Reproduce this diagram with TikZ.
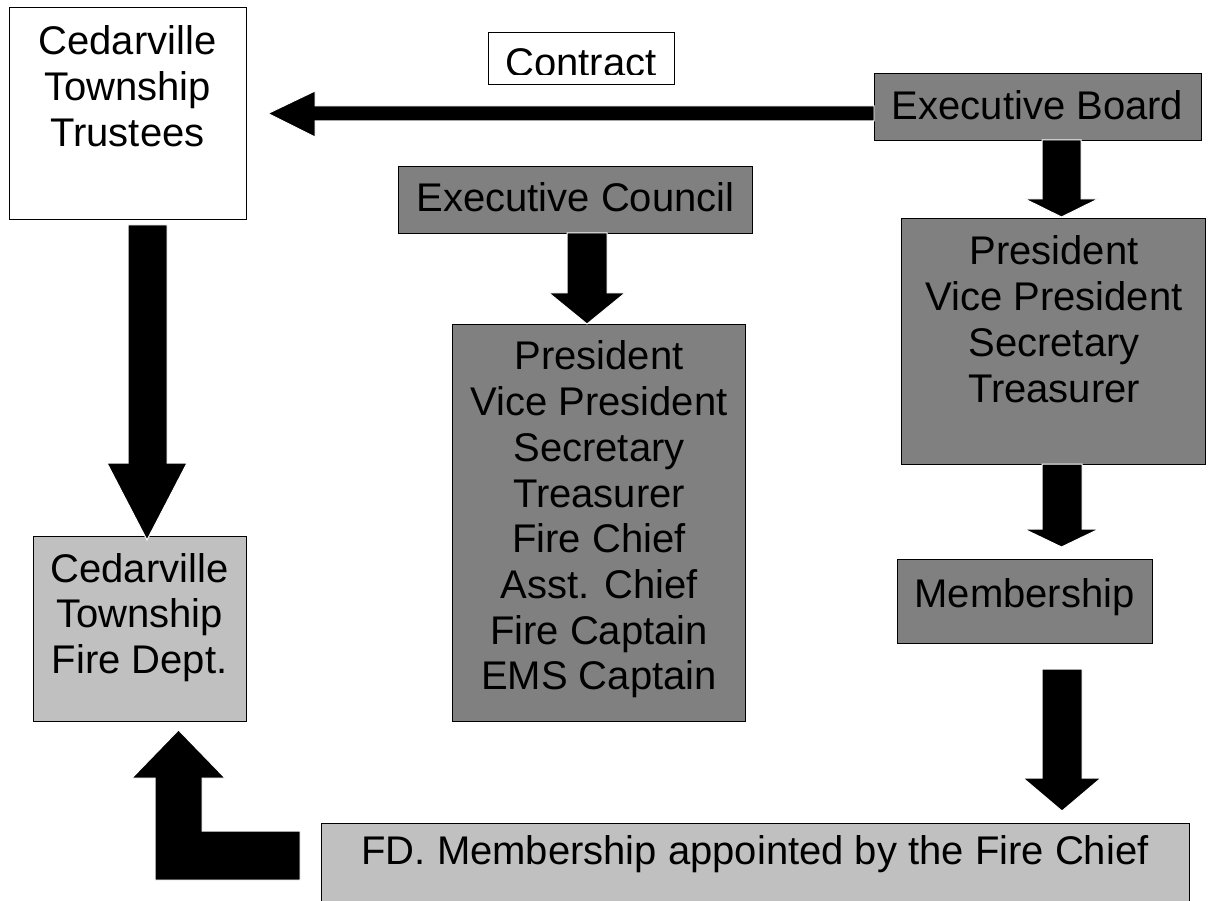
\documentclass[tikz,border=0pt]{standalone}
\usepackage{fontspec}
\setmainfont{Liberation Sans}
\definecolor{dk}{RGB}{128,128,128}
\definecolor{lt}{RGB}{192,192,192}
\newcommand{\mylines}[1]{\begin{tabular}[t]{@{}c@{}}#1\end{tabular}}
\tikzset{
  box/.style={draw=black, line width=1.4pt, inner sep=0pt, anchor=north west},
  txt/.style={inner sep=0pt, anchor=base, font=\fontsize{40}{45.7}\selectfont},
  blk/.style={fill=black, draw=white, line width=1pt},
}
\begin{document}
\begin{tikzpicture}[x=1pt,y=-1pt]
\clip (0,0) rectangle (1213,901);
\fill[white] (0,0) rectangle (1213,901);

% boxes
\node[box, fill=white, minimum width=237pt, minimum height=212pt] (trustees) at (9,7) {};
\node[box, fill=white, minimum width=186pt, minimum height=52pt] (contract) at (488,32) {};
\node[box, fill=dk, minimum width=327pt, minimum height=67pt] (board) at (874,73) {};
\node[box, fill=dk, minimum width=354pt, minimum height=67pt] (council) at (398,166) {};
\node[box, fill=dk, minimum width=304pt, minimum height=246pt] (blist) at (901,218) {};
\node[box, fill=dk, minimum width=293pt, minimum height=397pt] (clist) at (452,324) {};
\node[box, fill=lt, minimum width=213pt, minimum height=185pt] (firedept) at (33,536) {};
\node[box, fill=dk, minimum width=255pt, minimum height=84pt] (member) at (897,559) {};
\node[box, fill=lt, minimum width=868pt, minimum height=100pt] (fd) at (321,823) {};

% texts
\node[txt] (trustees-t) at (127.5,55) {\mylines{Cedarville\\Township\\Trustees}};
\begin{scope}
\clip (contract.north west) rectangle (675,75);
\node[txt] (contract-t) at (581,77) {Contract};
\end{scope}
\node[txt] (board-t) at (1037.5,120) {Executive Board};
\node[txt] (council-t) at (575.5,212) {Executive Council};
\node[txt] (blist-t) at (1054,265) {\mylines{President\\Vice President\\Secretary\\Treasurer}};
\node[txt] (clist-t) at (599,370) {\mylines{President\\Vice President\\Secretary\\Treasurer\\Fire Chief\\Asst. Chief\\Fire Captain\\EMS Captain}};
\node[txt] (member-t) at (1024.5,607) {Membership};
\node[txt] (firedept-t) at (139.5,582) {\mylines{Cedarville\\Township\\Fire Dept.}};
\node[txt] (fd-t) at (755,864) {FD. Membership appointed by the Fire Chief};

% block arrows
% Executive Board -> Trustees
\draw[blk] (874,106) -- (315,106) -- (315,91) -- (268,113.5) -- (315,137) -- (315,121) -- (874,121) -- cycle;
% Trustees -> Fire Dept
\draw[blk] (128,225) -- (167,225) -- (167,463) -- (187,463) -- (147,540) -- (107,463) -- (128,463) -- cycle;
% Executive Council -> list
\draw[blk] (567,233) -- (607,233) -- (607,293) -- (625,293) -- (587,324) -- (549,293) -- (567,293) -- cycle;
% Executive Board -> list
\draw[blk] (1042,140) -- (1081,140) -- (1081,199) -- (1098,199) -- (1061.5,217) -- (1025,199) -- (1042,199) -- cycle;
% Board list -> Membership
\draw[blk] (1042,464) -- (1082,464) -- (1082,529) -- (1099,529) -- (1061.5,547) -- (1024,529) -- (1042,529) -- cycle;
% Membership -> FD membership
\draw[blk] (1042,669) -- (1082,669) -- (1082,778) -- (1101,778) -- (1062,811) -- (1023,778) -- (1042,778) -- cycle;
% FD membership -> Fire Dept (elbow)
\draw[blk] (300,880) -- (155,880) -- (155,778) -- (132,778) -- (178.5,730) -- (225,778) -- (202,778) -- (202,831) -- (300,831) -- cycle;
\end{tikzpicture}
\end{document}
